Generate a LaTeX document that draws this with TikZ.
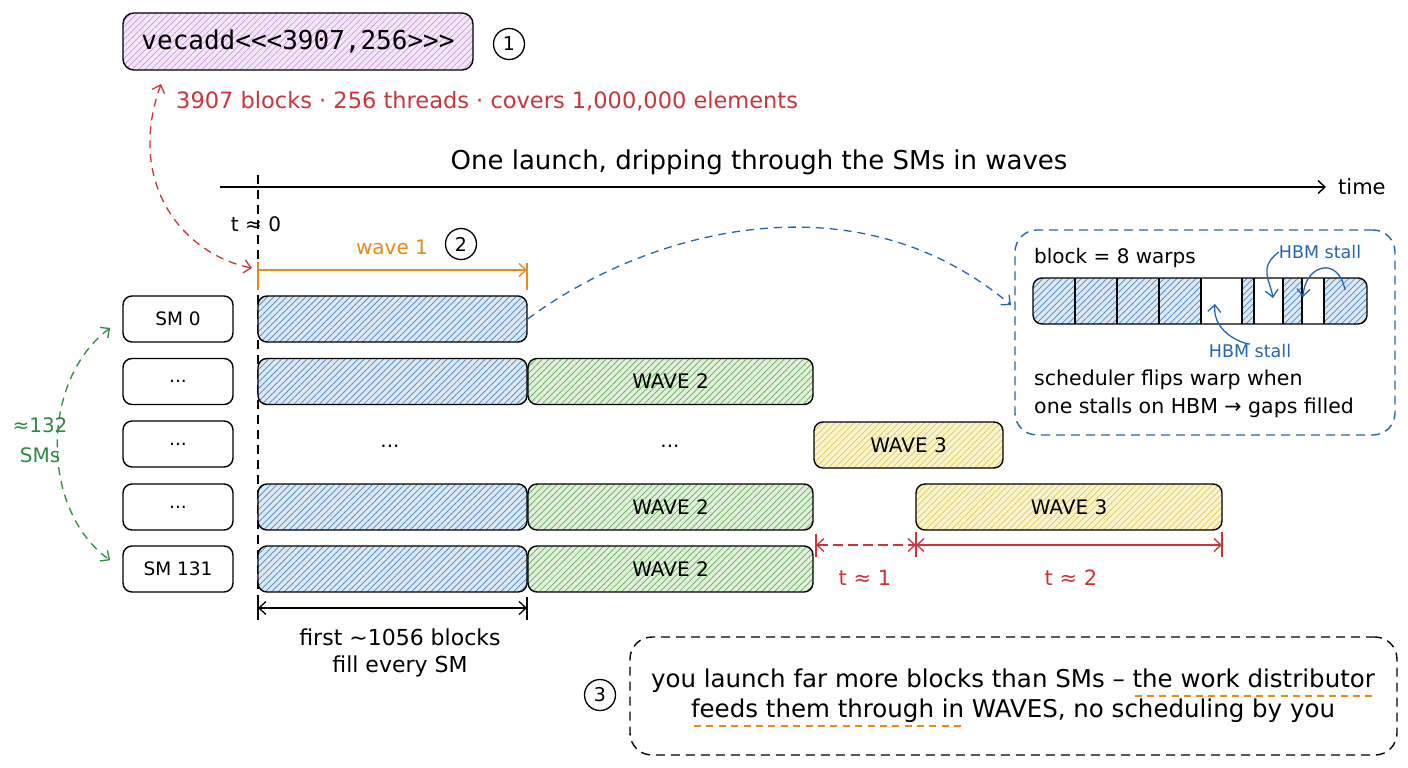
\documentclass[tikz,border=0pt]{standalone}
\usepackage{fontspec}
\setmainfont{DejaVu Sans}
\newfontfamily\codefont{DejaVu Sans Mono}
\usetikzlibrary{arrows.meta,patterns.meta}
\definecolor{bluefill}{HTML}{DCE8F4}
\definecolor{bluehatch}{HTML}{4A86C5}
\definecolor{bluec}{HTML}{2466AE}
\definecolor{greenfill}{HTML}{E2F0DB}
\definecolor{greenhatch}{HTML}{5EAE58}
\definecolor{greenc}{HTML}{2E8B40}
\definecolor{yellowfill}{HTML}{FBF5CF}
\definecolor{yellowhatch}{HTML}{DCC65A}
\definecolor{purplefill}{HTML}{F4E8F8}
\definecolor{purplehatch}{HTML}{C79BD8}
\definecolor{orangec}{HTML}{E68A1A}
\definecolor{redc}{HTML}{C8363B}
\newcommand\dashul[1]{\setbox0=\hbox{#1}\rlap{\raisebox{-9pt}{\textcolor{orangec}{\hbox to \wd0{\xleaders\hbox to 12pt{\hss\vrule width 7pt height 1.8pt\hss}\hfill}}}}\box0\relax}
\begin{document}
\begin{tikzpicture}[x=1pt,y=-1pt,
  >={Straight Barb[length=7pt,width=13pt]},
  every node/.style={inner sep=0pt},
  font=\fontsize{20}{26}\selectfont,
  hatchblue/.style={preaction={fill=bluefill}, pattern={Lines[angle=45,distance=4.5pt,line width=0.7pt]}, pattern color=bluehatch},
  hatchgreen/.style={preaction={fill=greenfill}, pattern={Lines[angle=45,distance=4.5pt,line width=0.7pt]}, pattern color=greenhatch},
  hatchyellow/.style={preaction={fill=yellowfill}, pattern={Lines[angle=45,distance=4.5pt,line width=0.7pt]}, pattern color=yellowhatch},
  hatchpurple/.style={preaction={fill=purplefill}, pattern={Lines[angle=45,distance=4.5pt,line width=0.7pt]}, pattern color=purplehatch},
  bar/.style={draw=black, line width=1.4pt, rounded corners=9pt, minimum height=46pt},
  smbox/.style={draw=black, line width=1.4pt, rounded corners=9pt, minimum width=110pt, minimum height=46pt, font=\fontsize{18.5}{24}\selectfont},
  numcirc/.style={circle, draw=black, line width=1.3pt, minimum size=31pt, font=\fontsize{19}{24}\selectfont},
  dashline/.style={line width=1.3pt, dash pattern=on 8pt off 6pt},
  thick line/.style={line width=1.4pt}
]
\useasboundingbox (0,0) rectangle (1408,768);
\fill[white] (0,0) rectangle (1408,768);

% launch
\node[bar, hatchpurple, minimum width=350pt, minimum height=57pt, rounded corners=11pt] (launch) at (298,41.5) {\codefont\fontsize{26}{30}\selectfont vecadd<\kern0pt<\kern0pt<3907,256>\kern0pt>\kern0pt>};
\node[numcirc] (n1) at (509,44) {1};
\node[anchor=west, text=redc, font=\fontsize{22.5}{26}\selectfont] (info) at (176,101) {3907 blocks · 256 threads · covers 1,000,000 elements};

% title and time axis
\node[font=\fontsize{26}{30}\selectfont] (title) at (759,162) {One launch, dripping through the SMs in waves};
\coordinate (ax0) at (220,187);
\node[anchor=west, font=\fontsize{21}{24}\selectfont] (time) at (1338,187) {time};
\draw[thick line,->,shorten >=12pt] (ax0) -- (time.west);

\coordinate (t0a) at (258,175);
\coordinate (t0b) at (258,603);
\draw[line width=1.3pt, dash pattern=on 9pt off 6pt] (t0a) -- (t0b);
\node (t0) at (256,224) {t ≈ 0};

% wave 1 bracket
\node[text=orangec] (w1) at (392,247) {wave 1};
\node[numcirc] (n2) at (461,244) {2};
\coordinate (w1a) at (258,270);
\coordinate (w1b) at (527,270);
\draw[orangec,thick line,->] (w1a) -- (w1b);
\draw[orangec,thick line] (258,262) -- (258,290) (527,263) -- (527,290);

% SM boxes
\node[smbox] (sm0) at (178,319) {SM 0};
\node[smbox] (sm1) at (178,381.5) {...};
\node[smbox] (sm2) at (178,444) {...};
\node[smbox] (sm3) at (178,507) {...};
\node[smbox] (sm4) at (178,569) {SM 131};

% bars
\node[bar,hatchblue,minimum width=269pt] (b0) at (392.5,319) {};
\node[bar,hatchblue,minimum width=269pt] (b1) at (392.5,381.5) {};
\node[bar,hatchgreen,minimum width=285pt] (g1) at (670.5,381.5) {WAVE 2};
\node (d1) at (390,446) {...};
\node (d2) at (670,446) {...};
\node[bar,hatchyellow,minimum width=189pt] (y2) at (908.5,445) {WAVE 3};
\node[bar,hatchblue,minimum width=269pt] (b3) at (392.5,507) {};
\node[bar,hatchgreen,minimum width=285pt] (g3) at (670.5,507) {WAVE 2};
\node[bar,hatchyellow,minimum width=306pt] (y3) at (1069,507) {WAVE 3};
\node[bar,hatchblue,minimum width=269pt] (b4) at (392.5,569) {};
\node[bar,hatchgreen,minimum width=285pt] (g4) at (670.5,569) {WAVE 2};

% red time dims
\draw[redc,line width=1.3pt] (816,534) -- (816,557) (916,532) -- (916,557) (1222,532) -- (1222,557);
\coordinate (da) at (816,545);
\coordinate (db) at (916,545);
\coordinate (dc) at (1222,545);
\draw[redc,line width=1.3pt,<->,dash pattern=on 10pt off 5pt] (da) -- (db);
\draw[redc,line width=1.3pt,<->] (db) -- (dc);
\node[text=redc, font=\fontsize{21}{26}\selectfont] (tl1) at (865,578) {t ≈ 1};
\node[text=redc, font=\fontsize{21}{26}\selectfont] (tl2) at (1071,578) {t ≈ 2};

% first wave dim
\coordinate (fa) at (258,608);
\coordinate (fb) at (527,608);
\draw[line width=1.3pt] (258,598) -- (258,620) (527,597) -- (527,620);
\draw[line width=1.3pt,<->] (fa) -- (fb);
\node[align=center, font=\fontsize{22}{27}\selectfont] (first) at (400,653) {first \textasciitilde1056 blocks\\fill every SM};

% green SM count
\draw[greenc,dashline,<->,shorten <=15pt,shorten >=15pt] (sm0.west) .. controls (40,380) and (40,510) .. (sm4.west);
\node[text=greenc, align=center, font=\fontsize{20}{30}\selectfont] (smn) at (40,440) {≈132\\SMs};

% red launch arrow
\coordinate (ra) at (161,84);
\coordinate (rb) at (252,268);
\draw[redc,dashline,<->] (ra) .. controls (125,185) and (185,255) .. (rb);

% inset
\node[draw=bluec,line width=1.4pt,dash pattern=on 9pt off 6pt,rounded corners=22pt,minimum width=380pt,minimum height=205pt] (inset) at (1205,332.5) {};
\coordinate (ie) at (1011,305);
\draw[bluec,dashline,->] (b0.east) .. controls (640,235) and (850,170) .. (ie);
\node[anchor=west] (blk) at (1034,258) {block = 8 warps};
\begin{scope}
  \clip[rounded corners=9pt] (1033,278) rectangle (1367,324);
  \foreach \a/\b in {1033/1075,1075/1117,1117/1159,1159/1201,1242/1254,1283/1302,1324/1367}
    \path[hatchblue] (\a,278) rectangle (\b,324);
\end{scope}
\foreach \x in {1075,1117,1159,1201,1242,1254,1283,1302,1324}
  \draw[line width=1.3pt] (\x,278) -- (\x,324);
\draw[thick line, rounded corners=9pt] (1033,278) rectangle (1367,324);
\node[text=bluec, font=\fontsize{17.5}{22}\selectfont] (hs1) at (1320,252) {HBM stall};
\node[text=bluec, font=\fontsize{17.5}{22}\selectfont] (hs2) at (1250,351) {HBM stall};
\draw[bluec,line width=1.3pt,->] (hs1.west) .. controls (1258,268) and (1270,280) .. (1273,298);
\draw[bluec,line width=1.3pt,->] (1345,290) .. controls (1338,255) and (1305,265) .. (1303,297);
\draw[bluec,line width=1.3pt,->] (hs2.north) .. controls (1248,345) and (1212,335) .. (1215,304);
\node[anchor=west, align=left, font=\fontsize{20.5}{28}\selectfont] (sched) at (1034,394) {scheduler flips warp when\\one stalls on HBM → gaps filled};

% bottom note
\node[numcirc] (n3) at (600,695) {3};
\node[draw, line width=1.4pt, dash pattern=on 9pt off 6pt, rounded corners=22pt, minimum width=767pt, minimum height=118pt] (note) at (1013.5,696) {};
\node[align=center, font=\fontsize{24.5}{30}\selectfont] (notetext) at (1013,698) {you launch far more blocks than SMs – \dashul{the work distributor}\\\dashul{feeds them through in} WAVES, no scheduling by you};
\end{tikzpicture}
\end{document}
